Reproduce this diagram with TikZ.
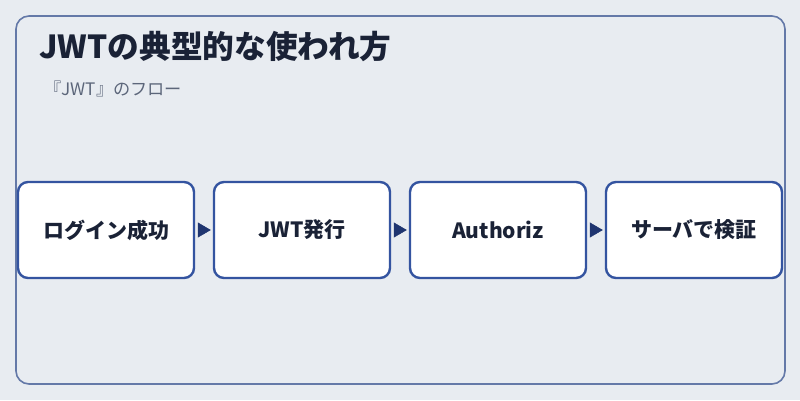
\documentclass[tikz,border=0pt]{standalone}
\usepackage{fontspec}
\setmainfont{Noto Sans CJK JP}
\usetikzlibrary{arrows.meta}
\definecolor{bg}{HTML}{E8ECF1}
\definecolor{frame}{HTML}{6479A8}
\definecolor{boxline}{HTML}{3454A0}
\definecolor{ink}{HTML}{1A2236}
\definecolor{subink}{HTML}{5C667A}
\definecolor{arrowc}{HTML}{1F3570}
\tikzset{
  stepbox/.style={draw=boxline, line width=2.4pt, fill=white, rounded corners=10pt,
    minimum width=176pt, minimum height=96pt, inner sep=0pt,
    font=\fontsize{21}{25}\selectfont\bfseries, text=ink},
  flow/.style={draw=arrowc, fill=arrowc, line width=0.5pt,
    shorten <=3pt, shorten >=2pt,
    -{Triangle[length=13pt,width=15pt]}}
}
\begin{document}
\begin{tikzpicture}[x=1pt,y=-1pt]
\useasboundingbox (0,0) rectangle (800,400);
\fill[bg] (0,0) rectangle (800,400);
\draw[frame, line width=1.6pt, rounded corners=13pt] (16,16) rectangle (785,384);
\node[anchor=base west, inner sep=0pt, text=ink, font=\fontsize{31.7}{35}\selectfont\bfseries] (title) at (39,58) {JWTの典型的な使われ方};
\node[anchor=base west, inner sep=0pt, text=subink, font=\fontsize{17.2}{21}\selectfont] (sub) at (44,95) {『JWT』のフロー};
\node[stepbox] (b1) at (106,230) {ログイン成功};
\node[stepbox] (b2) at (302,230) {JWT発行};
\node[stepbox] (b3) at (498,230) {Authoriz};
\node[stepbox] (b4) at (694,230) {サーバで検証};
\draw[flow] (b1.east) -- (b2.west);
\draw[flow] (b2.east) -- (b3.west);
\draw[flow] (b3.east) -- (b4.west);
\end{tikzpicture}
\end{document}
